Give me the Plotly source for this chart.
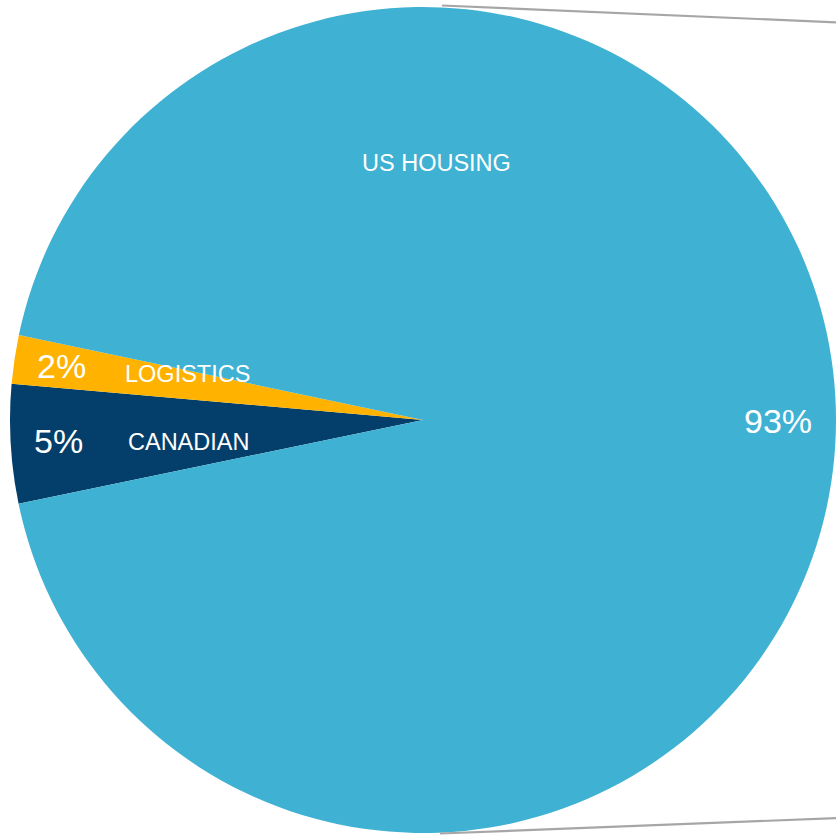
import plotly.graph_objects as go
import math

# Slices, listed clockwise starting from the lower edge of the dark wedge
categories = ["CANADIAN", "LOGISTICS", "US HOUSING"]
values = [4.65, 1.9, 93.45]
colors = ["#033F6A", "#FFB300", "#3FB1D2"]

W, H = 836, 835
CX, CY, R = 423, 420, 413          # pie centre / radius in pixels
START = 191.7                       # math angle (deg) where the first slice begins

# label placement (style only): percent radius, and name angle/radius
pct_r = [0.885, 0.885, 0.86]
name_pos = [(185.4, 0.571), (168.9, 0.58), (86.9, 0.623)]

FONT = "Liberation Sans, Arial, sans-serif"


def to_paper(px, py):
    return px / W, 1 - py / H


def polar(angle_deg, frac):
    a = math.radians(angle_deg)
    return to_paper(CX + frac * R * math.cos(a), CY - frac * R * math.sin(a))


total = sum(values)

fig = go.Figure(
    go.Pie(
        labels=categories,
        values=values,
        marker=dict(colors=colors, line=dict(width=0)),
        sort=False,
        direction="clockwise",
        rotation=90 - START,
        textinfo="none",
        hoverinfo="label+percent",
        domain=dict(x=[(CX - R) / W, (CX + R) / W], y=[1 - (CY + R) / H, 1 - (CY - R) / H]),
        showlegend=False,
    )
)

annotations = []
cum = 0
for i, (cat, v) in enumerate(zip(categories, values)):
    mid = START - (cum + v / 2) / total * 360
    cum += v
    x, y = polar(mid, pct_r[i])
    annotations.append(dict(x=x, y=y, xref="paper", yref="paper", showarrow=False,
                            xanchor="center", yanchor="middle",
                            text=f"{round(v / total * 100)}%",
                            font=dict(family=FONT, size=34, color="white")))
    ang, fr = name_pos[i]
    x, y = polar(ang, fr)
    annotations.append(dict(x=x, y=y, xref="paper", yref="paper", showarrow=False,
                            xanchor="center", yanchor="middle",
                            text=cat, font=dict(family=FONT, size=23.5, color="white")))

# connector lines towards the (cropped) secondary pie
x0, y0 = to_paper(442, 5.5)
x1, y1 = to_paper(840, 22.5)
x2, y2 = to_paper(440, 833.5)
x3, y3 = to_paper(840, 818)
shapes = [
    dict(type="line", xref="paper", yref="paper", x0=x0, y0=y0, x1=x1, y1=y1,
         line=dict(color="#A6A6A6", width=2.2)),
    dict(type="line", xref="paper", yref="paper", x0=x2, y0=y2, x1=x3, y1=y3,
         line=dict(color="#A6A6A6", width=2.2)),
]

fig.update_layout(
    width=W,
    height=H,
    margin=dict(l=0, r=0, t=0, b=0),
    paper_bgcolor="white",
    plot_bgcolor="white",
    annotations=annotations,
    shapes=shapes,
)

# drop the default page margin so the figure fills the window exactly
fig.write_html(
    "out.html",
    config={"displayModeBar": False},
    post_script="document.body.style.margin='0';document.body.style.overflow='hidden';",
)
